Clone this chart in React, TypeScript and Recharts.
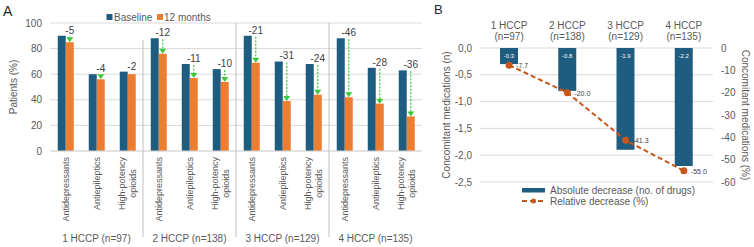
import React from 'react';
import { BarChart, Bar, XAxis, YAxis, CartesianGrid, ComposedChart, Line, LabelList } from 'recharts';

const FONT = '"Liberation Sans", Arial, sans-serif';
const NAVY = '#1f5d80';
const ORANGE = '#ed7d31';
const GREEN = '#3cc83c';
const RUST = '#c9561a';
const TEXT = '#595959';
const GRID = '#d9d9d9';

// Panel A
const groups = ['1 HCCP (n=97)', '2 HCCP (n=138)', '3 HCCP (n=129)', '4 HCCP (n=135)'];
const drugs = ['Antidepressants', 'Antiepileptics', 'High-potency\nopioids'];
const baseline = [90, 60, 62, 88, 68, 64, 90, 70, 68, 88, 65, 63];
const months12 = [85, 56, 60, 76, 57, 54, 69, 39, 44, 42, 37, 27];
const change = [-5, -4, -2, -12, -11, -10, -21, -31, -24, -46, -28, -36];
const patientTicks = [0, 20, 40, 60, 80, 100];

// Panel B
const hccpNames = ['1 HCCP', '2 HCCP', '3 HCCP', '4 HCCP'];
const hccpN = ['(n=97)', '(n=138)', '(n=129)', '(n=135)'];
const absoluteDecrease = [-0.3, -0.8, -1.9, -2.2];
const relativeDecrease = [-7.7, -20.0, -41.3, -55.0];
const countTicks = [0, -0.5, -1, -1.5, -2, -2.5];
const percentTicks = [0, -10, -20, -30, -40, -50, -60];

const dataA = baseline.map((b, i) => ({
  key: 'c' + i,
  baseline: b,
  months12: months12[i],
  change: change[i],
}));

const dataB = hccpNames.map((name, i) => ({
  name,
  absolute: absoluteDecrease[i],
  relative: relativeDecrease[i],
}));

const tickStyle = { fontSize: 10, fill: TEXT, fontFamily: FONT };

const axisTitle = (text: string, dx: number, angle: number) => (props: any) => {
  const vb = props.viewBox || {};
  const cx = vb.x + dx;
  const cy = vb.y + vb.height / 2;
  return (
    <text x={cx} y={cy} transform={`rotate(${angle} ${cx} ${cy})`} textAnchor="middle"
      dominantBaseline="central" fontSize={10} fill={TEXT} fontFamily={FONT}>{text}</text>
  );
};

function DrugTick(props: any) {
  const { x, index } = props;
  const half = props.payload?.offset || 15.5;
  const lines = drugs[index % 3].split('\n');
  const top = 157;
  const sep = index % 3 === 0 && index > 0;
  return (
    <g fontFamily={FONT} fill={TEXT}>
      {lines.length === 1 ? (
        <text x={x + 3.2} y={top} transform={`rotate(-90 ${x + 3.2} ${top})`} textAnchor="end" fontSize={9}>{lines[0]}</text>
      ) : (
        lines.map((l, k) => {
          const lx = x + (k === 0 ? -5.5 : 5.5) + 3.2;
          const ly = top + 26.5;
          return <text key={k} x={lx} y={ly} transform={`rotate(-90 ${lx} ${ly})`} textAnchor="middle" fontSize={9}>{l}</text>;
        })
      )}
      {sep && <line x1={x - half} x2={x - half} y1={index === 3 ? 40 : 23} y2={237} stroke="#bfbfbf" strokeWidth={1} />}
      {index % 3 === 1 && (
        <text x={x} y={242} textAnchor="middle" fontSize={10}>{groups[Math.floor(index / 3)]}</text>
      )}
    </g>
  );
}

function ChangeBar(props: any) {
  const { x, y, width, height, fill, payload } = props;
  const perUnit = height / payload.months12;
  const yBase = y + height - payload.baseline * perUnit;
  const cx = x + width / 2;
  const drop = y - yBase;
  return (
    <g>
      <rect x={x} y={y} width={width} height={height} fill={fill} />
      {drop > 4 && (
        <g>
          <line x1={cx} y1={yBase + 1} x2={cx} y2={y - 4} stroke={GREEN} strokeWidth={1.2} strokeDasharray="2 1.5" />
          <path d={`M${cx - 3.5},${y - 5} L${cx + 3.5},${y - 5} L${cx},${y} Z`} fill={GREEN} />
        </g>
      )}
      <text x={cx} y={yBase - 2} textAnchor="middle" fontSize={10} fill="#404040" fontFamily={FONT}>{payload.change}</text>
    </g>
  );
}

function HccpTick(props: any) {
  const { x, index } = props;
  return (
    <g fontFamily={FONT} fill={TEXT} fontSize={10}>
      <text x={x} y={28.5} textAnchor="middle">{hccpNames[index]}</text>
      <text x={x} y={39.5} textAnchor="middle">{hccpN[index]}</text>
    </g>
  );
}

function BarValue(props: any) {
  const { x, y, width, height, value } = props;
  const top = Math.min(y, y + height);
  return (
    <text x={x + width / 2} y={top + 9.5} textAnchor="middle" fontSize={6} fill="#ffffff" fontFamily={FONT}>
      {Number(value).toFixed(1)}
    </text>
  );
}

function LineValue(props: any) {
  const { x, y, value } = props;
  return (
    <text x={x + 7} y={y + 3} textAnchor="start" fontSize={7} fill="#404040" fontFamily={FONT}>
      {Number(value).toFixed(1)}
    </text>
  );
}

export default function App() {
  return (
    <div style={{ position: 'absolute', left: 0, top: 0, width: 754, height: 247, background: '#fff', fontFamily: FONT }}>
      <div style={{ position: 'absolute', left: 0, top: 0 }}>
        <BarChart width={430} height={247} data={dataA} margin={{ top: 23, right: 8, bottom: 0, left: 0 }}
          barGap={0} barCategoryGap="25%">
          <CartesianGrid vertical={false} stroke={GRID} />
          <XAxis dataKey="key" height={96} interval={0} tickLine={false} axisLine={{ stroke: GRID }} tick={<DrugTick />} />
          <YAxis domain={[0, 100]} ticks={patientTicks} width={50} tickLine={false} axisLine={false}
            tick={tickStyle} label={axisTitle('Patients (%)', 13, -90)} />
          <Bar dataKey="baseline" fill={NAVY} isAnimationActive={false} />
          <Bar dataKey="months12" fill={ORANGE} isAnimationActive={false} shape={<ChangeBar />} />
        </BarChart>
      </div>
      <div style={{ position: 'absolute', left: 430, top: 0 }}>
        <ComposedChart width={324} height={247} data={dataB} margin={{ top: 0, right: 0, bottom: 65, left: 0 }}>
          <CartesianGrid yAxisId="left" vertical={false} stroke={GRID} />
          <XAxis dataKey="name" orientation="top" height={48} interval={0} tickLine={false} axisLine={false} tick={<HccpTick />} />
          <YAxis yAxisId="left" domain={[-2.5, 0]} ticks={countTicks} width={50} tickLine={false} axisLine={false}
            tick={tickStyle} tickFormatter={(v: number) => v.toFixed(1).replace('.', ',')}
            label={axisTitle('Concomitant medications (n)', 16, -90)} />
          <YAxis yAxisId="right" orientation="right" domain={[-60, 0]} ticks={percentTicks} width={41} tickLine={false}
            axisLine={false} tick={tickStyle} label={axisTitle('Concomitant medications (%)', 32, 90)} />
          <Bar yAxisId="left" dataKey="absolute" fill={NAVY} barSize={18} isAnimationActive={false}>
            <LabelList dataKey="absolute" content={<BarValue />} />
          </Bar>
          <Line yAxisId="right" dataKey="relative" stroke={RUST} strokeWidth={2} strokeDasharray="5 3"
            dot={{ r: 2.5, fill: RUST, stroke: RUST, strokeDasharray: '' }} isAnimationActive={false}>
            <LabelList dataKey="relative" content={<LineValue />} />
          </Line>
        </ComposedChart>
      </div>
      <svg width={754} height={247} style={{ position: 'absolute', left: 0, top: 0, pointerEvents: 'none' }} fontFamily={FONT}>
        <text x={3} y={16} fontSize={14} fill="#262626">A</text>
        <text x={434} y={14} fontSize={13} fill="#262626">B</text>
        <rect x={106.5} y={14} width={6} height={6} fill={NAVY} />
        <text x={114} y={20.5} fontSize={10} fill={TEXT}>Baseline</text>
        <rect x={157} y={14} width={6} height={6} fill={ORANGE} />
        <text x={164} y={20.5} fontSize={10} fill={TEXT}>12 months</text>
        <rect x={522} y={188} width={23} height={4.5} fill={NAVY} />
        <text x={550} y={193.5} fontSize={10} fill={TEXT}>Absolute decrease (no. of drugs)</text>
        <line x1={522} x2={545} y1={201} y2={201} stroke={RUST} strokeWidth={2} strokeDasharray="5 3" />
        <circle cx={533.5} cy={201} r={2.5} fill={RUST} />
        <text x={550} y={204.5} fontSize={10} fill={TEXT}>Relative decrease (%)</text>
      </svg>
    </div>
  );
}
